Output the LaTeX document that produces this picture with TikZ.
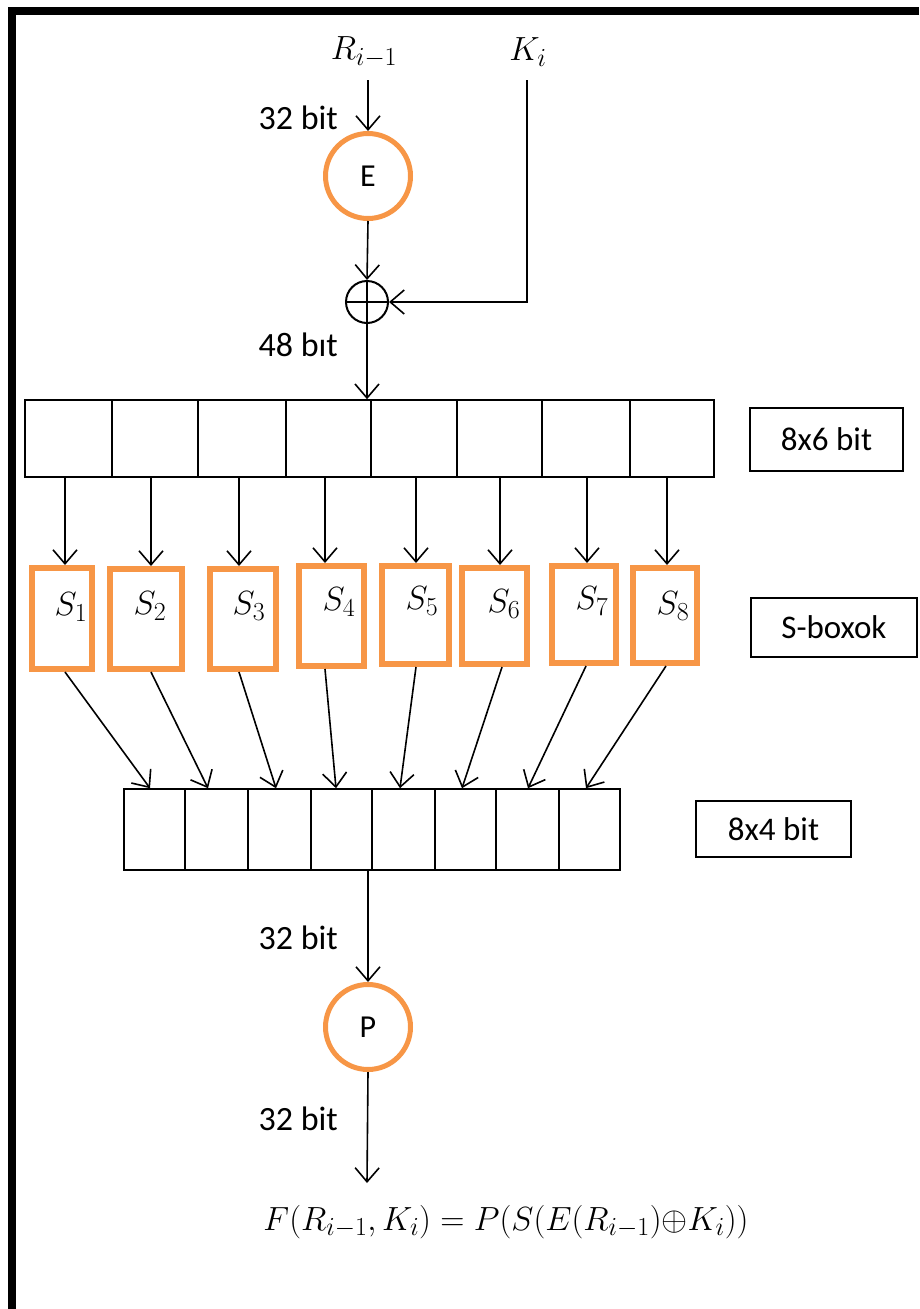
\documentclass[tikz,border=0pt]{standalone}
\usepackage{fix-cm}
\usepackage{fontspec}
\setmainfont{Carlito}
\DeclareMathSizes{33.5}{33.5}{26}{20}
\usetikzlibrary{arrows.meta,calc}
\definecolor{org}{RGB}{247,150,70}
\begin{document}
\begin{tikzpicture}[x=1pt,y=-1pt,
  arr/.style={line width=1.6pt,-{Straight Barb[length=14pt,width=24pt]}},
  cell/.style={draw,line width=1.6pt,inner sep=0},
  sbox/.style={draw=org,line width=6pt,inner sep=0},
  lbox/.style={draw,line width=1.8pt,inner sep=0,font=\fontsize{33}{36}\selectfont},
  rnd/.style={circle,draw=org,line width=5pt,inner sep=0,minimum size=85pt,font=\fontsize{32}{35}\selectfont},
  lab/.style={anchor=east,inner sep=0,font=\fontsize{34}{37}\selectfont},
  mth/.style={inner sep=0,font=\fontsize{33.5}{37}\selectfont}]
\useasboundingbox (0,0) rectangle (919,1309);
% frame
\draw[line width=8pt] (12,1309) -- (12,11) -- (919,11);
% inputs
\node[mth] (R) at (364,52) {$R_{i-1}$};
\node[mth] (K) at (528,52) {$K_i$};
\node[rnd] (E) at (368,176) {E};
\node[circle,draw,line width=2pt,minimum size=42pt,inner sep=0,
  path picture={\draw[line width=2.8pt] (path picture bounding box.west) -- (path picture bounding box.east);
                \draw[line width=1.6pt] (path picture bounding box.north) -- (path picture bounding box.south);}] (X) at (367,302) {};
\node[lab] at (338,118) {32 bit};
\node[lab] at (338,345) {48 bıt};
\coordinate (rin) at (368,80);
\coordinate (kin) at (527,80);
\draw[arr] (rin) -- (E.north);
\draw[arr] (E.south) -- (X.north);
\draw[arr] (kin) |- (X.east);
% row 1 (8x6)
\foreach \i/\c/\w in {1/68.5/87,2/155/86,3/242/88,4/328.5/85,5/414/86,6/499.5/85,7/586/88,8/672/84}
  \node[cell,minimum width=\w pt,minimum height=77pt] (c\i) at (\c,438.5) {};
\draw[arr] (X.south) -- (X.south |- c4.north);
\node[lbox,minimum width=153pt,minimum height=63pt] (L1) at (826.5,439.5) {8x6 bit};
% S-boxes
\foreach \i/\cx/\cy/\w/\h in {1/62/618.5/60/101,2/146/619/72/100,3/243/619/66/100,4/331.5/616/65/100,
  5/415.5/615/67/98,6/494.5/616/65/96,7/584/614.5/64/97,8/665/615.5/64/95}
  \node[sbox,minimum width=\w pt,minimum height=\h pt] (s\i) at (\cx,\cy) {};
\foreach \i/\x/\y in {1/71/607,2/150/606,3/249/606,4/339/602,5/422/601,6/504/604,7/592/601,8/673/606}
  \node[mth] (t\i) at (\x,\y) {$S_{\i}$};
\foreach \i/\x in {1/65,2/151,3/239,4/325,5/416,6/500,7/587,8/667}
  \draw[arr] (\x,0 |- c\i.south) -- (\x,0 |- s\i.north);
\node[lbox,minimum width=166pt,minimum height=59pt] (L2) at (834,627.5) {S-boxok};
% row 2 (8x4)
\foreach \i/\c/\w in {1/154.5/61,2/216.5/63,3/279.5/63,4/341.5/61,5/403.5/63,6/465.5/61,7/527.5/63,8/589.5/61}
  \node[cell,minimum width=\w pt,minimum height=81pt] (d\i) at (\c,829.5) {};
\foreach \i/\xa/\xb in {1/65/150,2/151/208,3/239/276,4/325/336,5/416/400,6/502/462,7/586/528,8/666/586}
  \draw[arr] (\xa,0 |- s\i.south) -- (\xb,0 |- d\i.north);
\node[lbox,minimum width=155pt,minimum height=56pt] (L3) at (773.5,829) {8x4 bit};
% P
\node[rnd] (P) at (368,1027) {P};
\draw[arr] (P.north |- d4.south) -- (P.north);
\node[lab] at (338,938) {32 bit};
\node[lab] at (338,1119) {32 bit};
\coordinate (fout) at (367,1183);
\draw[arr] (P.south) -- (fout);
\node[mth] (F) at (506,1222) {$F(R_{i-1},K_i)=P(S(E(R_{i-1}){\oplus}K_i))$};
\end{tikzpicture}
\end{document}
